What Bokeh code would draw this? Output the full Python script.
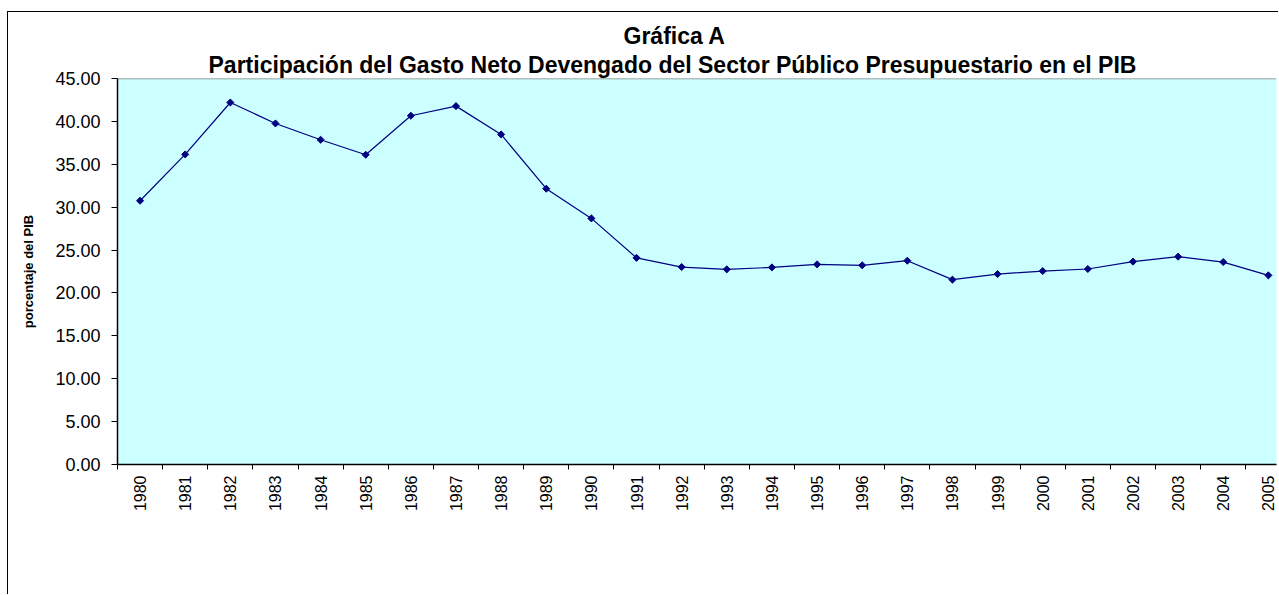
import math
from bokeh.plotting import figure
from bokeh.models import Range1d, FixedTicker, Span, Title, NumeralTickFormatter
from bokeh.embed import file_html
from bokeh.resources import INLINE

years = ["1980", "1981", "1982", "1983", "1984", "1985", "1986", "1987", "1988",
         "1989", "1990", "1991", "1992", "1993", "1994", "1995", "1996", "1997",
         "1998", "1999", "2000", "2001", "2002", "2003", "2004", "2005"]
values = [30.75, 36.15, 42.20, 39.76, 37.86, 36.11, 40.66, 41.78, 38.48,
          32.15, 28.69, 24.09, 23.02, 22.75, 22.98, 23.33, 23.22, 23.76,
          21.55, 22.20, 22.55, 22.79, 23.65, 24.23, 23.60, 22.05]
y_ticks = [0, 5, 10, 15, 20, 25, 30, 35, 40, 45]

title_main = "Gráfica A"
title_sub = "Participación del Gasto Neto Devengado del Sector Público Presupuestario en el PIB"
y_label = "porcentaje del PIB"

FONT = "Liberation Sans"

# category centres and boundaries
xs = [i + 0.5 for i in range(len(years))]
bounds = [float(i) for i in range(len(years))]

p = figure(width=1271, height=583, output_backend="svg", toolbar_location=None,
           x_range=Range1d(0, 25.68), y_range=Range1d(0, 45),
           min_border_left=109, min_border_right=3, min_border_top=66,
           min_border_bottom=131,
           background_fill_color="#CCFFFF", border_fill_color="white",
           outline_line_color=None)
p.styles = {"margin-top": "11px", "margin-left": "7px",
            "border-left": "1px solid black", "border-top": "1px solid black"}

p.xgrid.visible = False
p.ygrid.visible = False

# x axis
xa = p.xaxis[0]
xa.ticker = FixedTicker(ticks=xs, minor_ticks=bounds)
xa.major_label_overrides = {x: y for x, y in zip(xs, years)}
xa.major_tick_line_color = None
xa.major_tick_out = 0
xa.major_tick_in = 0
xa.minor_tick_line_color = "black"
xa.minor_tick_out = 5
xa.minor_tick_in = 0
xa.major_label_orientation = math.pi / 2
xa.major_label_standoff = 6
xa.major_label_text_font = FONT
xa.major_label_text_font_size = "16px"
xa.major_label_text_color = "black"
xa.axis_line_color = "black"
xa.axis_line_width = 1.5

# y axis
ya = p.yaxis[0]
ya.ticker = FixedTicker(ticks=y_ticks)
ya.formatter = NumeralTickFormatter(format="0.00")
ya.minor_tick_line_color = None
ya.major_tick_out = 6
ya.major_tick_in = 0
ya.major_tick_line_color = "black"
ya.major_label_standoff = 11
ya.major_label_text_font = FONT
ya.major_label_text_font_size = "18px"
ya.major_label_text_color = "black"
ya.axis_line_color = "black"
ya.axis_line_width = 1.5
ya.axis_label = y_label
ya.axis_label_text_font = FONT
ya.axis_label_text_font_size = "13px"
ya.axis_label_text_font_style = "bold"
ya.axis_label_text_color = "black"
ya.axis_label_standoff = 16

# top edge of plot area
p.add_layout(Span(location=45, dimension="width", line_color="#808080", line_width=1.5))

p.line(xs, values, line_color="#000080", line_width=1.2)
p.scatter(xs, values, marker="square", angle=math.pi / 4, size=5,
          fill_color="#000080", line_color="#000080")

p.add_layout(Title(text=title_sub, align="left", offset=91, text_font=FONT,
                   text_font_size="23px", text_font_style="bold",
                   text_color="black", standoff=2), "above")
p.add_layout(Title(text=title_main, align="left", offset=506, text_font=FONT,
                   text_font_size="23px", text_font_style="bold",
                   text_color="black", standoff=0), "above")

open("out.html", "w").write(file_html(p, INLINE))
